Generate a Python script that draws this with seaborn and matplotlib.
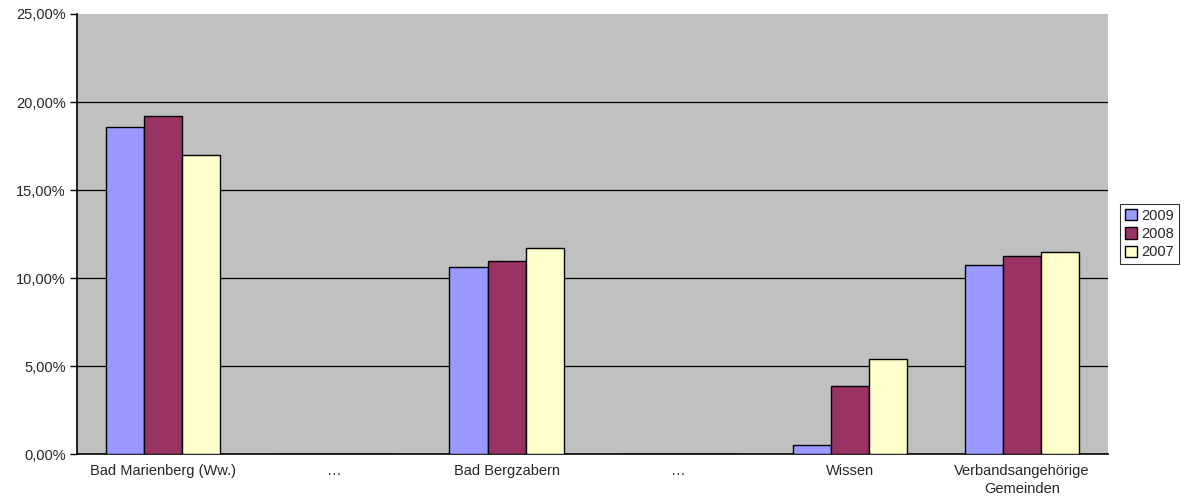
import matplotlib
matplotlib.use("Agg")
import matplotlib.pyplot as plt
import seaborn as sns
import pandas as pd
from matplotlib.ticker import FuncFormatter, MultipleLocator

categories = ["Bad Marienberg (Ww.)", "…", "Bad Bergzabern", "…", "Wissen",
              "Verbandsangehörige\nGemeinden"]
years = ["2009", "2008", "2007"]
v2009 = [18.58, None, 10.63, None, 0.51, 10.74]
v2008 = [19.22, None, 10.97, None, 3.88, 11.27]
v2007 = [16.99, None, 11.70, None, 5.40, 11.48]
colors = ["#9999FF", "#993366", "#FFFFCC"]

rows = []
for i, cat in enumerate(categories):
    for y, vals in zip(years, [v2009, v2008, v2007]):
        rows.append({"pos": i, "Jahr": y, "Wert": vals[i] if vals[i] is not None else 0.0})
df = pd.DataFrame(rows)

sns.set_style("white")
plt.rcParams['font.family'] = ['Liberation Sans', 'DejaVu Sans']

fig = plt.figure(figsize=(11.9, 4.99), dpi=100)
ax = fig.add_axes([77/1190, 45/499, (1108-77)/1190, 440/499])
ax.set_facecolor("#C0C0C0")

sns.barplot(data=df, x="pos", y="Wert", hue="Jahr", hue_order=years,
            palette=colors, saturation=1, order=list(range(len(categories))),
            width=0.665, edgecolor="black", linewidth=1.0, ax=ax, zorder=3)

ax.set_ylim(0, 25)
ax.set_xlim(-0.5, len(categories) - 0.5)
ax.yaxis.set_major_locator(MultipleLocator(5))
ax.yaxis.set_major_formatter(FuncFormatter(lambda v, p: f"{v:.2f}".replace(".", ",") + "%"))
ax.grid(False)
for yv in [5, 10, 15, 20]:
    ax.axhline(yv, color="black", linewidth=0.9, zorder=1)

ax.set_xticks(range(len(categories)))
ax.set_xticklabels(categories, fontsize=10.5, linespacing=1.4)
ax.set_xticks([i - 0.5 for i in range(len(categories) + 1)], minor=True)
ax.tick_params(axis="x", which="major", length=0, pad=7)
ax.tick_params(axis="x", which="minor", length=5, width=1, color="black", direction="out")
ax.tick_params(axis="y", length=5, width=1, color="black", direction="out", labelsize=10.5, pad=3)
ax.tick_params(left=True, bottom=True)
ax.set_xlabel("")
ax.set_ylabel("")

for s in ["top", "right"]:
    ax.spines[s].set_visible(False)
for s in ["left", "bottom"]:
    ax.spines[s].set_color("black")
    ax.spines[s].set_linewidth(1.2)

handles, labels = ax.get_legend_handles_labels()
leg = ax.legend(handles, labels, loc="center left", bbox_to_anchor=(1.012, 0.5),
                frameon=True, fancybox=False, edgecolor="black", fontsize=10.5,
                handlelength=0.8, handleheight=0.8, handletextpad=0.3,
                labelspacing=0.3, borderpad=0.35, borderaxespad=0)
leg.get_frame().set_linewidth(0.8)

fig.savefig("out.png", dpi=100, facecolor="white")
